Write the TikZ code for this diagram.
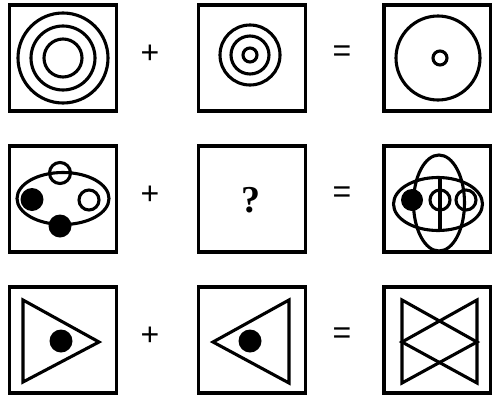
\documentclass[tikz,border=0pt]{standalone}
\usepackage{fontspec}
\setmainfont{Liberation Serif}
\newfontfamily\opfont{Liberation Sans}

\begin{document}
\begin{tikzpicture}[
      x=1pt, y=-1pt,
      line width=3.1pt,
      frame/.style={
          draw, line width=3.1pt,
          minimum width=107pt,
          minimum height=106pt,
          inner sep=0pt
        },
      op/.style={font=\opfont\fontsize{32}{32}\selectfont, inner sep=0pt},
      dot/.style={fill=black},
    ]
    \useasboundingbox (0,0) rectangle (492,399);

    % frames
    \node[frame] (a1) at (63,58) {};
    \node[frame] (a2) at (252,58) {};
    \node[frame] (a3) at (437.5,58) {};
    \node[frame] (b1) at (63,199) {};
    \node[frame] (b2) at (252,199) {};
    \node[frame] (b3) at (437.5,199) {};
    \node[frame] (c1) at (63,340) {};
    \node[frame] (c2) at (252,340) {};
    \node[frame] (c3) at (437.5,340) {};

    % operators
    \node[op] (p1) at (150,54) {+};
    \node[op] (e1) at (342,54) {=};
    \node[op] (p2) at (150,195) {+};
    \node[op] (e2) at (342,195) {=};
    \node[op] (p3) at (150,336) {+};
    \node[op] (e3) at (342,336) {=};
    \node[font=\bfseries\fontsize{38}{38}\selectfont, inner sep=0pt] (q) at (251,200) {?};

    % row 1
    \draw (63,58) circle[radius=45] circle[radius=32] circle[radius=19];
    \draw (250,55) circle[radius=30] circle[radius=19] circle[radius=7];
    \draw (438,58) circle[radius=42];
    \draw (440,58) circle[radius=7];

    % row 2
    \draw (63,198.5) ellipse[x radius=46, y radius=26];
    \draw (60,173) circle[radius=10.5];
    \draw (89,200) circle[radius=10];
    \fill[dot] (32,199.5) circle[radius=11.5];
    \fill[dot] (60,226) circle[radius=11.5];

    \draw (438,204) ellipse[x radius=44.5, y radius=26.5];
    \draw (439,203) ellipse[x radius=25.5, y radius=48];
    \draw (440,177.5) -- (440,230.5);
    \fill[dot] (412,200) circle[radius=11];
    \draw (440,200) circle[radius=10];
    \draw (466,200) circle[radius=10];

    % row 3
    \draw (23,300) -- (99,342) -- (23,382) -- cycle;
    \fill[dot] (61,341) circle[radius=11.5];
    \draw (289,300) -- (213,342) -- (289,383) -- cycle;
    \fill[dot] (250,341) circle[radius=11.5];
    \draw (402,300) -- (477,342) -- (402,383) -- cycle;
    \draw (477,300) -- (402,342) -- (477,383) -- cycle;
  \end{tikzpicture}
\end{document}
